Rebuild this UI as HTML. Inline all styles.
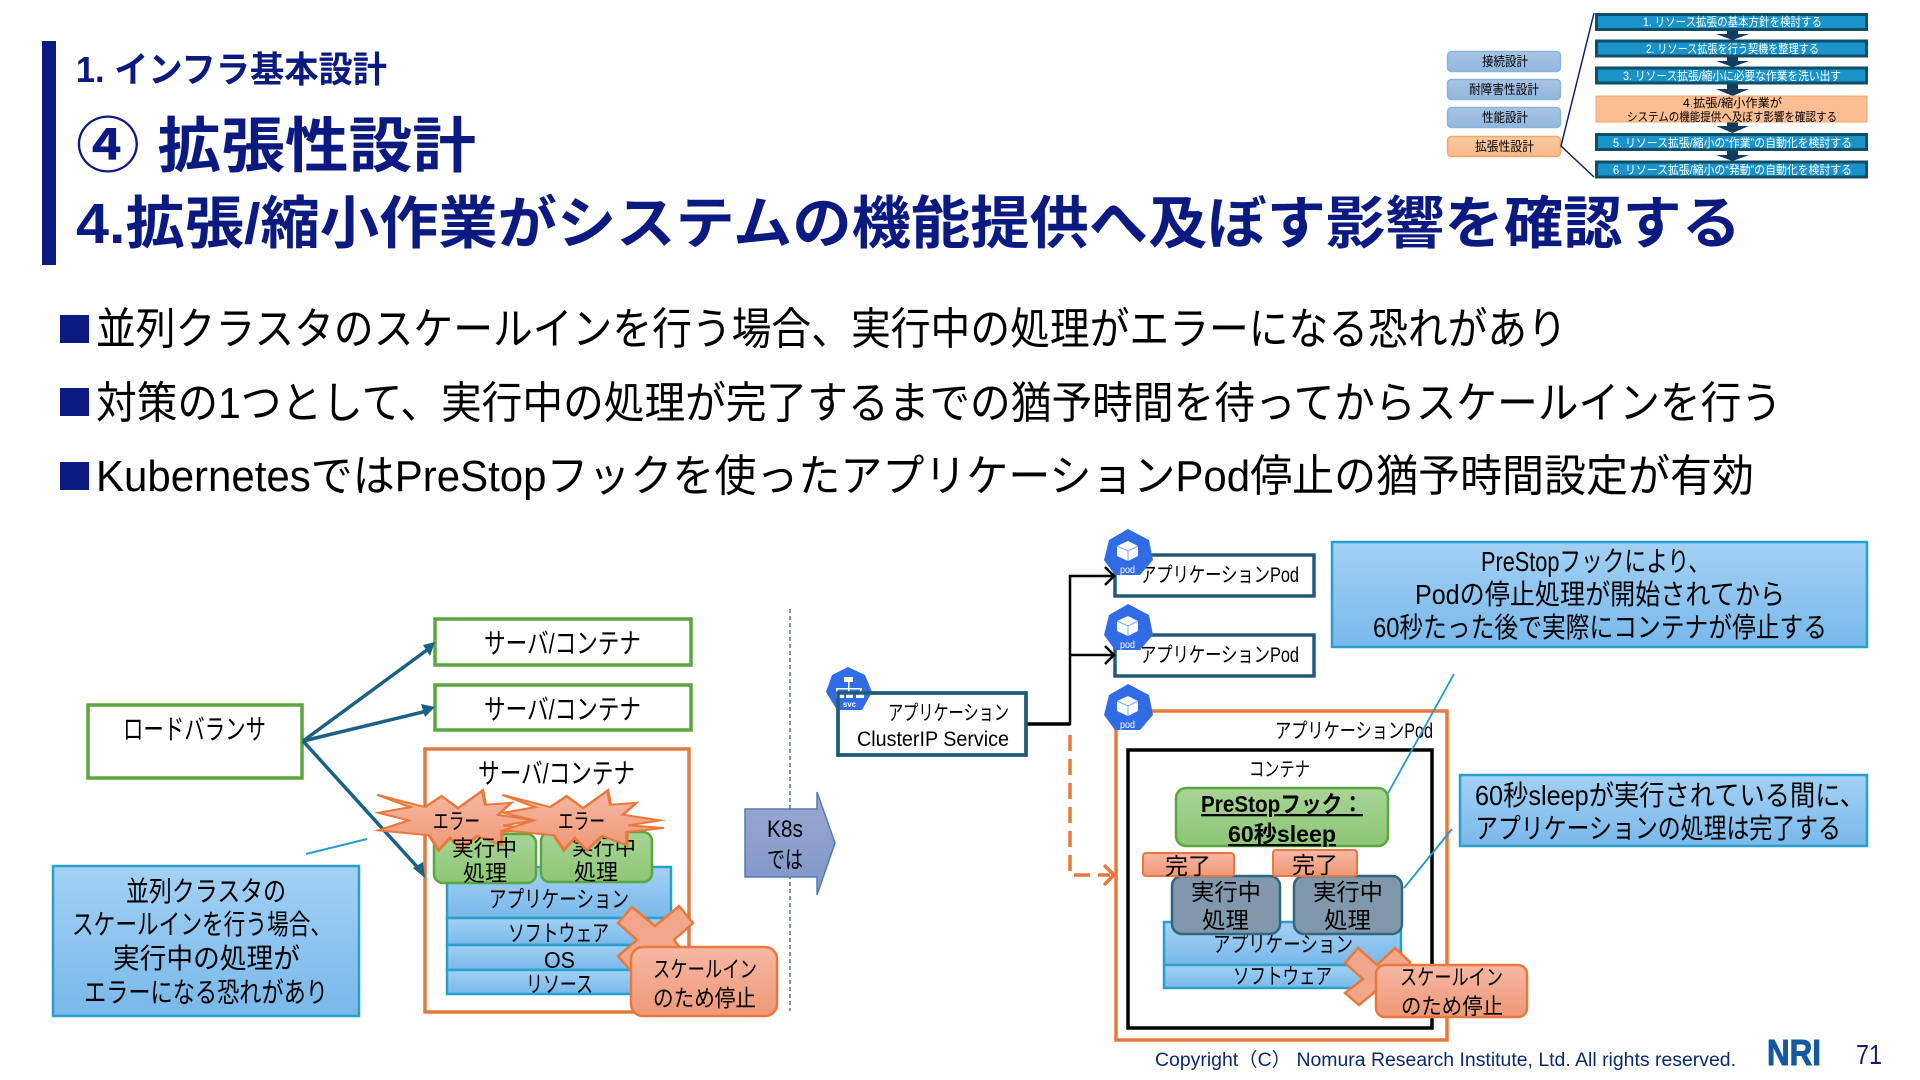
<!DOCTYPE html>
<html><head><meta charset="utf-8"><style>
html,body{margin:0;padding:0;background:#fff;width:1920px;height:1080px;overflow:hidden}
svg{display:block}
text{font-family:"Liberation Sans","Noto Sans CJK JP",sans-serif;fill:#000}
.n{fill:#0a1a80;font-weight:700}
.w{fill:#fff}
</style></head><body>
<svg width="1920" height="1080" viewBox="0 0 1920 1080" xmlns="http://www.w3.org/2000/svg">
<defs>
<linearGradient id="b" x1="0" y1="0" x2="0" y2="1"><stop offset="0" stop-color="#a3d1f5"/><stop offset="1" stop-color="#79b8ea"/></linearGradient>
<linearGradient id="o" x1="0" y1="0" x2="0" y2="1"><stop offset="0" stop-color="#f6b8a4"/><stop offset="1" stop-color="#f09877"/></linearGradient>
<linearGradient id="g" x1="0" y1="0" x2="0" y2="1"><stop offset="0" stop-color="#a8d496"/><stop offset="1" stop-color="#8cc776"/></linearGradient>
<linearGradient id="p" x1="0" y1="0" x2="0" y2="1"><stop offset="0" stop-color="#a9c4e4"/><stop offset="1" stop-color="#90b7de"/></linearGradient>
<linearGradient id="pk" x1="0" y1="0" x2="0" y2="1"><stop offset="0" stop-color="#fbc9a0"/><stop offset="1" stop-color="#f9b98a"/></linearGradient>
<linearGradient id="k" x1="0" y1="0" x2="0" y2="1"><stop offset="0" stop-color="#9aa9d4"/><stop offset="1" stop-color="#8095c7"/></linearGradient>
</defs>

<!-- header -->
<rect x="42" y="41" width="14" height="224" fill="#0a1a80"/>
<text class="n" x="76" y="82" font-size="36" textLength="311" lengthAdjust="spacingAndGlyphs">1. インフラ基本設計</text>
<text class="n" x="76" y="167" font-size="60" textLength="400" lengthAdjust="spacingAndGlyphs">④ 拡張性設計</text>
<text class="n" x="76" y="243" font-size="57" textLength="1665" lengthAdjust="spacingAndGlyphs">4.拡張/縮小作業がシステムの機能提供へ及ぼす影響を確認する</text>

<!-- bullets -->
<rect x="60" y="315" width="29" height="28" fill="#0a1a80"/>
<rect x="60" y="388" width="29" height="28" fill="#0a1a80"/>
<rect x="60" y="462" width="29" height="28" fill="#0a1a80"/>
<text x="96" y="344" font-size="44" textLength="1471" lengthAdjust="spacingAndGlyphs">並列クラスタのスケールインを行う場合、実行中の処理がエラーになる恐れがあり</text>
<text x="96" y="418" font-size="44" textLength="1686" lengthAdjust="spacingAndGlyphs">対策の1つとして、実行中の処理が完了するまでの猶予時間を待ってからスケールインを行う</text>
<text x="96" y="491" font-size="44" textLength="1658" lengthAdjust="spacingAndGlyphs">KubernetesではPreStopフックを使ったアプリケーションPod停止の猶予時間設定が有効</text>

<!-- top-right mini navigator -->
<g stroke="#8cb4d8" stroke-width="1.5" fill="url(#p)">
<rect x="1447.5" y="51.5" width="113" height="20" rx="4"/>
<rect x="1447.5" y="79.5" width="113" height="20" rx="4"/>
<rect x="1447.5" y="107.5" width="113" height="20" rx="4"/>
</g>
<rect x="1447.5" y="136.5" width="113" height="20" rx="4" fill="url(#pk)" stroke="#f2a768" stroke-width="1.5"/>
<g font-size="13" fill="#222">
<text x="1482" y="66" textLength="46" lengthAdjust="spacingAndGlyphs">接続設計</text>
<text x="1469" y="94" textLength="70" lengthAdjust="spacingAndGlyphs">耐障害性設計</text>
<text x="1482" y="122" textLength="46" lengthAdjust="spacingAndGlyphs">性能設計</text>
<text x="1475" y="151" textLength="59" lengthAdjust="spacingAndGlyphs">拡張性設計</text>
</g>
<polyline points="1594,13 1561,146 1594,177" fill="none" stroke="#14206e" stroke-width="1.5"/>
<g fill="#123c5c">
<path d="M1727 30h11v4h11l-16.500 6 -16.500 -6h11z"/>
<path d="M1727 57h11v4h11l-16.500 6 -16.500 -6h11z"/>
<path d="M1727 84h11v5h11l-16.500 7 -16.500 -7h11z"/>
<path d="M1727 122h11v4h11l-16.500 7 -16.500 -7h11z"/>
<path d="M1727 151h11v4h11l-16.500 6 -16.500 -6h11z"/>
</g>
<g fill="#1a93c9" stroke="#0f4d68" stroke-width="3">
<rect x="1596.500" y="14.500" width="270" height="15"/>
<rect x="1596.500" y="41" width="270" height="15"/>
<rect x="1596.500" y="68" width="270" height="15"/>
<rect x="1596.500" y="134.500" width="270" height="15"/>
<rect x="1596.500" y="162" width="270" height="15"/>
</g>
<rect x="1596" y="96" width="271" height="26" fill="#fbbd92" stroke="#f2a768"/>
<g font-size="12">
<text class="w" x="1643" y="26" textLength="179" lengthAdjust="spacingAndGlyphs">1. リソース拡張の基本方針を検討する</text>
<text class="w" x="1646" y="53" textLength="173" lengthAdjust="spacingAndGlyphs">2. リソース拡張を行う契機を整理する</text>
<text class="w" x="1623" y="80" textLength="218" lengthAdjust="spacingAndGlyphs">3. リソース拡張/縮小に必要な作業を洗い出す</text>
<text x="1683" y="107" textLength="99" lengthAdjust="spacingAndGlyphs">4.拡張/縮小作業が</text>
<text x="1627" y="121" textLength="210" lengthAdjust="spacingAndGlyphs">システムの機能提供へ及ぼす影響を確認する</text>
<text class="w" x="1613" y="147" textLength="239" lengthAdjust="spacingAndGlyphs">5. リソース拡張/縮小の“作業”の自動化を検討する</text>
<text class="w" x="1613" y="174" textLength="239" lengthAdjust="spacingAndGlyphs">6. リソース拡張/縮小の“発動”の自動化を検討する</text>
</g>

<!-- LEFT DIAGRAM -->
<g fill="#fff" stroke="#5ba63f" stroke-width="3.500">
<rect x="88" y="705" width="214" height="73"/>
<rect x="435" y="619" width="256" height="46"/>
<rect x="435" y="685" width="256" height="45"/>
</g>
<text x="123" y="739" font-size="28" textLength="143" lengthAdjust="spacingAndGlyphs">ロードバランサ</text>
<text x="484" y="653" font-size="28" textLength="157" lengthAdjust="spacingAndGlyphs">サーバ/コンテナ</text>
<text x="484" y="719" font-size="28" textLength="157" lengthAdjust="spacingAndGlyphs">サーバ/コンテナ</text>
<rect x="425" y="749" width="264" height="263" fill="#fff" stroke="#e07b3f" stroke-width="3.500"/>
<text x="478" y="783" font-size="28" textLength="157" lengthAdjust="spacingAndGlyphs">サーバ/コンテナ</text>

<g stroke="#1b6183" stroke-width="3.500" fill="none">
<path d="M303 741L427 650"/>
<path d="M303 741L427 711"/>
<path d="M303 741L420 870"/>
</g>
<g fill="#1b6183">
<path d="M435 642L423 645 430 656z"/>
<path d="M435 707L421 704 425 717z"/>
<path d="M425 878L413 868 423 862z"/>
</g>

<!-- stack -->
<g fill="url(#b)" stroke="#27a0cc" stroke-width="2.500">
<rect x="447" y="867" width="224" height="51"/>
<rect x="447" y="918" width="224" height="27"/>
<rect x="447" y="945" width="224" height="25"/>
<rect x="447" y="970" width="224" height="24"/>
</g>
<text x="489" y="907" font-size="23" textLength="140" lengthAdjust="spacingAndGlyphs">アプリケーション</text>
<text x="508" y="941" font-size="23" textLength="101" lengthAdjust="spacingAndGlyphs">ソフトウェア</text>
<text x="544" y="968" font-size="23" textLength="31" lengthAdjust="spacingAndGlyphs">OS</text>
<text x="526" y="992" font-size="23" textLength="67" lengthAdjust="spacingAndGlyphs">リソース</text>

<!-- green tasks -->
<g fill="url(#g)" stroke="#5ba63f" stroke-width="2.500">
<rect x="434" y="834" width="102" height="49" rx="9"/>
<rect x="541" y="832" width="111" height="50" rx="9"/>
</g>
<text x="572" y="855" font-size="22" textLength="64" lengthAdjust="spacingAndGlyphs">実行中</text>
<text x="574" y="880" font-size="22" textLength="44" lengthAdjust="spacingAndGlyphs">処理</text>

<!-- bursts -->
<g transform="translate(0 560) scale(.5485 .3317)">
<polygon points="688,708 775,745 805,712 835,748 880,695 885,738 932,732 908,768 975,785 918,800 975,812 915,820 915,860 870,832 842,875 820,838 800,875 782,830 690,815 745,785 690,762 748,745" fill="url(#o)" stroke="#e8793b" stroke-width="6"/>
<polygon points="916,708 1003,745 1033,712 1063,748 1108,695 1113,738 1160,732 1136,768 1203,785 1146,800 1210,808 1143,820 1143,860 1098,832 1070,875 1048,838 1028,875 1010,830 918,815 973,785 918,762 976,745" fill="url(#o)" stroke="#e8793b" stroke-width="6"/>
</g>
<text x="433" y="829" font-size="22" textLength="47" lengthAdjust="spacingAndGlyphs">エラー</text>
<text x="558" y="829" font-size="22" textLength="47" lengthAdjust="spacingAndGlyphs">エラー</text>
<text x="452" y="856" font-size="22" textLength="65" lengthAdjust="spacingAndGlyphs">実行中</text>
<text x="463" y="881" font-size="22" textLength="44" lengthAdjust="spacingAndGlyphs">処理</text>

<!-- cross + scale in -->
<polygon points="632,907 655,926 679,906 693,923 674,940 690,960 630,970 618,956 637,940 618,923" fill="#f2a68c" stroke="#e8793b" stroke-width="2.500"/>
<rect x="631" y="947" width="146" height="69" rx="12" fill="url(#o)" stroke="#e8793b" stroke-width="2.500"/>
<text x="653" y="977" font-size="23" textLength="104" lengthAdjust="spacingAndGlyphs">スケールイン</text>
<text x="653" y="1006" font-size="23" textLength="103" lengthAdjust="spacingAndGlyphs">のため停止</text>

<!-- note left -->
<line x1="306" y1="854" x2="367" y2="839" stroke="#27a0cc" stroke-width="2"/>
<rect x="53" y="866" width="306" height="150" fill="url(#b)" stroke="#27a0cc" stroke-width="2.500"/>
<g font-size="28">
<text x="126" y="901" textLength="160" lengthAdjust="spacingAndGlyphs">並列クラスタの</text>
<text x="72" y="934" textLength="260" lengthAdjust="spacingAndGlyphs">スケールインを行う場合、</text>
<text x="113" y="968" textLength="187" lengthAdjust="spacingAndGlyphs">実行中の処理が</text>
<text x="84" y="1002" textLength="244" lengthAdjust="spacingAndGlyphs">エラーになる恐れがあり</text>
</g>

<!-- divider -->
<line x1="790" y1="609" x2="790" y2="1011" stroke="#5b7080" stroke-width="1.500" stroke-dasharray="4 3"/>

<!-- K8s arrow -->
<polygon points="745,809 817,809 817,792 835,843 817,895 817,877 745,877" fill="url(#k)" stroke="#5b78ad" stroke-width="1.500"/>
<text x="767" y="837" font-size="24" textLength="36" lengthAdjust="spacingAndGlyphs">K8s</text>
<text x="767" y="868" font-size="24" textLength="36" lengthAdjust="spacingAndGlyphs">では</text>

<!-- RIGHT DIAGRAM -->
<g fill="#fff" stroke="#1f5b78" stroke-width="3.500">
<rect x="1115" y="555" width="199" height="41"/>
<rect x="1115" y="635" width="199" height="41"/>
<rect x="838" y="693" width="188" height="62"/>
</g>
<text x="1140" y="582" font-size="21" textLength="159" lengthAdjust="spacingAndGlyphs">アプリケーションPod</text>
<text x="1140" y="662" font-size="21" textLength="159" lengthAdjust="spacingAndGlyphs">アプリケーションPod</text>
<text x="888" y="720" font-size="21" textLength="121" lengthAdjust="spacingAndGlyphs">アプリケーション</text>
<text x="857" y="746" font-size="21" textLength="152" lengthAdjust="spacingAndGlyphs">ClusterIP Service</text>

<!-- connectors -->
<path d="M1026 724H1070V576H1112M1070 655H1112" fill="none" stroke="#000" stroke-width="2.500"/>
<path d="M1105 567L1114 576 1105 585M1105 646L1114 655 1105 664" fill="none" stroke="#000" stroke-width="2.500"/>
<path d="M1026 724H1070" fill="none" stroke="#000" stroke-width="3.500"/>
<path d="M1070 735V875H1110" fill="none" stroke="#e8793b" stroke-width="3.500" stroke-dasharray="16 8"/>
<path d="M1104 865L1114 875 1104 885" fill="none" stroke="#e8793b" stroke-width="3.500"/>

<rect x="1116" y="711" width="331" height="329" fill="#fff" stroke="#e8793b" stroke-width="3.500"/>
<text x="1275" y="738" font-size="21" textLength="158" lengthAdjust="spacingAndGlyphs">アプリケーションPod</text>
<rect x="1128" y="750" width="304" height="278" fill="#fff" stroke="#000" stroke-width="3.500"/>
<text x="1249" y="776" font-size="20" textLength="61" lengthAdjust="spacingAndGlyphs">コンテナ</text>

<!-- callout lines -->
<line x1="1454" y1="674" x2="1387" y2="795" stroke="#1f9bc8" stroke-width="1.800"/>
<line x1="1452" y1="829" x2="1404" y2="888" stroke="#1f9bc8" stroke-width="1.800"/>

<!-- prestop -->
<rect x="1176" y="788" width="212" height="58" rx="10" fill="url(#g)" stroke="#5ba63f" stroke-width="2.500"/>
<text x="1201" y="812" font-size="23" font-weight="700" textLength="162" lengthAdjust="spacingAndGlyphs" text-decoration="underline">PreStopフック：</text>
<text x="1228" y="842" font-size="23" font-weight="700" textLength="108" lengthAdjust="spacingAndGlyphs" text-decoration="underline">60秒sleep</text>

<!-- stack right -->
<g fill="url(#b)" stroke="#27a0cc" stroke-width="2.500">
<rect x="1164" y="922" width="237" height="43"/>
<rect x="1164" y="965" width="237" height="23"/>
</g>
<text x="1213" y="952" font-size="22" textLength="140" lengthAdjust="spacingAndGlyphs">アプリケーション</text>
<text x="1233" y="984" font-size="22" textLength="99" lengthAdjust="spacingAndGlyphs">ソフトウェア</text>

<!-- grey tasks -->
<g fill="#8198ac" stroke="#2f6680" stroke-width="2.500">
<rect x="1172" y="876" width="108" height="58" rx="10"/>
<rect x="1294" y="876" width="108" height="58" rx="10"/>
</g>
<text x="1191" y="900" font-size="23" textLength="70" lengthAdjust="spacingAndGlyphs">実行中</text>
<text x="1202" y="928" font-size="23" textLength="47" lengthAdjust="spacingAndGlyphs">処理</text>
<text x="1313" y="900" font-size="23" textLength="70" lengthAdjust="spacingAndGlyphs">実行中</text>
<text x="1324" y="928" font-size="23" textLength="47" lengthAdjust="spacingAndGlyphs">処理</text>

<!-- done tags -->
<g fill="url(#o)" stroke="#e8793b" stroke-width="2">
<rect x="1143" y="853" width="91" height="23" rx="3"/>
<rect x="1273" y="850" width="84" height="26" rx="3"/>
</g>
<text x="1165" y="874" font-size="23" textLength="46" lengthAdjust="spacingAndGlyphs">完了</text>
<text x="1292" y="873" font-size="23" textLength="46" lengthAdjust="spacingAndGlyphs">完了</text>

<!-- cross + scale in right -->
<polygon points="1358,948 1377,965 1395,948 1410,962 1400,990 1377,990 1359,1005 1345,993 1363,979 1345,963" fill="#f2a68c" stroke="#e8793b" stroke-width="2.500"/>
<rect x="1376" y="965" width="151" height="52" rx="9" fill="url(#o)" stroke="#e8793b" stroke-width="2.500"/>
<text x="1400" y="985" font-size="22" textLength="103" lengthAdjust="spacingAndGlyphs">スケールイン</text>
<text x="1401" y="1014" font-size="22" textLength="102" lengthAdjust="spacingAndGlyphs">のため停止</text>

<!-- notes right -->
<rect x="1332" y="542" width="535" height="105" fill="url(#b)" stroke="#27a0cc" stroke-width="2.500"/>
<g font-size="28">
<text x="1481" y="571" textLength="229" lengthAdjust="spacingAndGlyphs">PreStopフックにより、</text>
<text x="1415" y="604" textLength="370" lengthAdjust="spacingAndGlyphs">Podの停止処理が開始されてから</text>
<text x="1373" y="637" textLength="454" lengthAdjust="spacingAndGlyphs">60秒たった後で実際にコンテナが停止する</text>
</g>
<rect x="1460" y="775" width="407" height="71" fill="url(#b)" stroke="#27a0cc" stroke-width="2.500"/>
<g font-size="28">
<text x="1475" y="805" textLength="390" lengthAdjust="spacingAndGlyphs">60秒sleepが実行されている間に、</text>
<text x="1475" y="838" textLength="366" lengthAdjust="spacingAndGlyphs">アプリケーションの処理は完了する</text>
</g>

<!-- k8s icons -->
<g fill="#326ce5">
<polygon points="848,667 865,675 872,692 862,710 837,710 826,692 832,675"/>
<polygon points="1128,529 1149,540 1153,560 1140,575 1115,575 1104,560 1109,540"/>
<polygon points="1128,604 1149,615 1153,635 1140,650 1115,650 1104,635 1109,615"/>
<polygon points="1128,684 1149,695 1153,715 1140,730 1115,730 1104,715 1109,695"/>
</g>
<!-- service icon glyph -->
<g fill="#fff">
<rect x="844" y="677" width="9" height="5"/>
<rect x="848" y="682" width="1.500" height="6"/>
<rect x="836" y="688" width="26" height="1.500"/>
<rect x="836" y="694" width="8" height="4"/>
<rect x="846" y="694" width="7" height="4"/>
<rect x="856" y="694" width="8" height="4"/>
<rect x="836" y="689" width="1.500" height="5"/>
<rect x="848" y="689" width="1.500" height="5"/>
<rect x="860" y="689" width="1.500" height="5"/>
</g>
<!-- service box outline over icon -->
<rect x="838" y="693" width="188" height="62" fill="none" stroke="#1f5b78" stroke-width="3.500"/>
<!-- cubes -->
<g fill="#fff">
<path d="M1117 546l11-5 10 5v10l-10 5-11-5z"/>
<path d="M1117 621l11-5 10 5v10l-10 5-11-5z"/>
<path d="M1117 701l11-5 10 5v10l-10 5-11-5z"/>
</g>
<g stroke="#7fa8ea" stroke-width="1" fill="none">
<path d="M1117 546l11 5 10-5M1128 551v10"/>
<path d="M1117 621l11 5 10-5M1128 626v10"/>
<path d="M1117 701l11 5 10-5M1128 706v10"/>
</g>
<text class="w" x="843" y="707" font-size="8" font-weight="700" textLength="13" lengthAdjust="spacingAndGlyphs">svc</text>
<text class="w" x="1120" y="573" font-size="10" textLength="15" lengthAdjust="spacingAndGlyphs">pod</text>
<text class="w" x="1120" y="648" font-size="10" textLength="15" lengthAdjust="spacingAndGlyphs">pod</text>
<text class="w" x="1120" y="728" font-size="10" textLength="15" lengthAdjust="spacingAndGlyphs">pod</text>

<!-- footer -->
<text x="1155" y="1066" font-size="19" style="fill:#0a2a6e" textLength="581" lengthAdjust="spacingAndGlyphs">Copyright（C） Nomura Research Institute, Ltd. All rights reserved.</text>
<text x="1767" y="1065" font-size="36" font-weight="700" style="fill:#14589f;stroke:#14589f;stroke-width:1" textLength="54" lengthAdjust="spacingAndGlyphs">NRI</text>
<text x="1856" y="1064" font-size="28" style="fill:#1a1a70" textLength="26" lengthAdjust="spacingAndGlyphs">71</text>
</svg>
</body></html>
